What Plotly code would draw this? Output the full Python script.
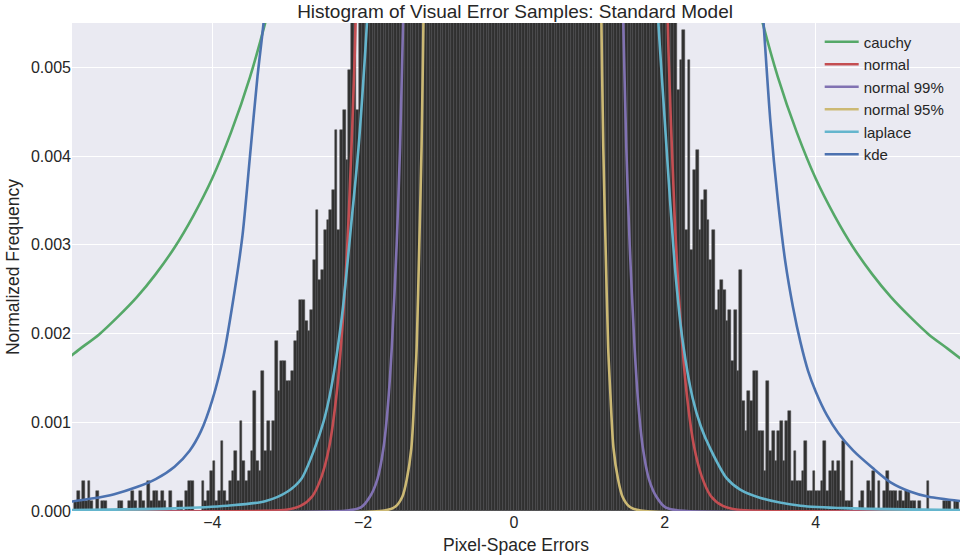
import plotly.graph_objects as go

# ---------------- data ----------------
BIN_START = -5.904
BIN_WIDTH = 0.036
COUNT_SCALE = 0.000113   # normalized frequency per sample count

left_tail_counts = [
    0, 0, 1, 2, 1, 3, 1, 3, 1, 0,
    2, 0, 1, 1, 0, 0, 0, 0, 1, 1,
    0, 0, 1, 2, 1, 0, 2, 1, 0, 3,
    1, 2, 2, 1, 2, 1, 0, 2, 0, 0,
    1, 1, 0, 2, 3, 3, 0, 0, 0, 3,
    1, 2, 4, 5, 1, 2, 7, 2, 1, 3,
    4, 6, 3, 9, 5, 3, 4, 6, 12, 5,
    4, 14, 6, 9, 6, 9, 17, 12, 15, 15,
    13, 13, 14, 17, 18, 21, 21, 19, 18, 20,
    25, 30, 23, 24, 28, 29, 30, 32, 38, 28,
    38, 40, 35, 44,
]
center_counts = [
    55, 57, 40, 60, 62, 66, 68, 73, 77, 82, 88, 94,
    100, 108, 115, 124, 133, 143, 154, 166, 178, 192, 206, 222,
    239, 257, 276, 297, 319, 343, 369, 396, 425, 456, 489, 524,
    561, 600, 641, 684, 729, 776, 825, 875, 926, 978, 1030, 1082,
    1133, 1183, 1231, 1277, 1320, 1360, 1396, 1428, 1455, 1477, 1493, 1503,
    1507, 1503, 1493, 1477, 1455, 1428, 1396, 1360, 1320, 1277, 1231, 1183,
    1133, 1082, 1030, 978, 926, 875, 825, 776, 729, 684, 641, 600,
    561, 524, 489, 456, 425, 396, 369, 343, 319, 297, 276, 257,
    239, 222, 206, 192, 178, 166, 154, 143, 133, 124, 115, 108,
    100, 94, 88, 82, 77, 73, 68, 66, 62, 60, 57, 55,
]
right_tail_counts = [
    42, 45, 48, 28, 45, 26, 34, 36, 28, 31,
    32, 29, 25, 28, 20, 22, 23, 22, 19, 20,
    15, 20, 14, 24, 11, 8, 12, 11, 14, 14,
    8, 8, 4, 13, 6, 8, 5, 8, 9, 5,
    9, 10, 3, 6, 3, 3, 4, 7, 2, 2,
    4, 2, 2, 3, 7, 2, 4, 5, 4, 5,
    2, 7, 1, 1, 5, 0, 0, 1, 2, 0,
    3, 2, 4, 0, 3, 0, 2, 4, 2, 2,
    2, 1, 2, 1, 2, 2, 1, 1, 0, 1,
    0, 0, 3, 0, 0, 0, 0, 0, 1, 1,
    1, 0, 1, 1,
]

# fitted curves (None splits the part above the view)
cauchy_x = [-5.9, -5.75, -5.5, -5.25, -5.0, -4.75, -4.5, -4.25, -4.0, -3.75, -3.5, -3.25, -3.1, None,
            3.1, 3.25, 3.5, 3.75, 4.0, 4.25, 4.5, 4.75, 5.0, 5.25, 5.5, 5.75, 5.92]
cauchy_y = [0.00173, 0.00183, 0.00199, 0.00219, 0.00241, 0.00267, 0.00297, 0.00333, 0.00375, 0.00427, 0.00489, 0.00566, 0.00621, None,
            0.00621, 0.00566, 0.00489, 0.00427, 0.00375, 0.00333, 0.00297, 0.00267, 0.00241, 0.00219, 0.00199, 0.00183, 0.00172]

normal_x = [-5.9, -3.3, -3.02, -2.83, -2.67, -2.55, -2.45, -2.35, -2.27, -2.19, -2.11, -2.03, None,
            1.97, 2.05, 2.13, 2.21, 2.29, 2.39, 2.49, 2.61, 2.77, 2.97, 3.27, 5.92]
normal_y = [0.0, 0.000001, 0.000013, 0.000057, 0.00017, 0.00039, 0.00072, 0.00133, 0.00213, 0.00334, 0.00517, 0.0079, None,
            0.0079, 0.00517, 0.00334, 0.00213, 0.00133, 0.00072, 0.00039, 0.00017, 0.000057, 0.000013, 0.000001, 0.0]

normal99_x = [-5.9, -2.21, -2.03, -1.91, -1.81, -1.73, -1.67, -1.62, -1.555, -1.51, -1.47, -1.41, None,
              1.39, 1.45, 1.49, 1.535, 1.60, 1.65, 1.71, 1.79, 1.89, 2.01, 2.19, 5.92]
normal99_y = [0.0, 0.000005, 0.00004, 0.00016, 0.00036, 0.00071, 0.0012, 0.00184, 0.0030, 0.0041, 0.0055, 0.0075, None,
              0.0075, 0.0055, 0.0041, 0.0030, 0.00184, 0.0012, 0.00071, 0.00036, 0.00016, 0.00004, 0.000005, 0.0]

normal95_x = [-5.9, -1.72, -1.57, -1.48, -1.42, -1.36, -1.32, -1.29, -1.255, -1.225, -1.20, -1.16, None,
              1.12, 1.16, 1.185, 1.215, 1.25, 1.28, 1.32, 1.38, 1.44, 1.53, 1.68, 5.92]
normal95_y = [0.0, 0.000005, 0.00005, 0.00016, 0.00036, 0.00071, 0.0013, 0.00184, 0.0030, 0.0041, 0.0055, 0.0080, None,
              0.0080, 0.0055, 0.0041, 0.0030, 0.00184, 0.0013, 0.00071, 0.00036, 0.00016, 0.00005, 0.000005, 0.0]

laplace_x = [-5.9, -4.5, -3.8, -3.3, -3.0, -2.82, -2.64, -2.52, -2.42, -2.28, -2.15, -2.06, -1.97, -1.9, None,
             1.88, 1.93, 2.0, 2.07, 2.15, 2.24, 2.37, 2.48, 2.6, 2.82, 3.0, 3.26, 3.8, 4.5, 5.92]
laplace_y = [0.00001, 0.00003, 0.00006, 0.00011, 0.00022, 0.00036, 0.00071, 0.00102, 0.0014, 0.0022, 0.0033, 0.0041, 0.0052, 0.0062, None,
             0.0060, 0.0053, 0.0044, 0.0035, 0.0026, 0.0019, 0.00127, 0.00095, 0.00071, 0.00037, 0.00024, 0.00015, 0.00006, 0.00003, 0.00001]

kde_x = [-5.88, -5.6, -5.3, -5.0, -4.75, -4.5, -4.3, -4.15, -4.0, -3.85, -3.7, -3.6, -3.5, -3.4, -3.32, -3.26, None,
         3.26, 3.31, 3.4, 3.5, 3.6, 3.7, 3.8, 3.9, 4.0, 4.15, 4.3, 4.5, 4.75, 5.0, 5.25, 5.5, 5.92]
kde_y = [0.000105, 0.00014, 0.00019, 0.00027, 0.00036, 0.00050, 0.00068, 0.00090, 0.00125, 0.00175, 0.0025, 0.0031, 0.0040, 0.0049, 0.0055, 0.0061, None,
         0.0061, 0.0055, 0.0044, 0.0035, 0.0028, 0.0023, 0.0019, 0.00158, 0.00135, 0.00108, 0.00088, 0.00068, 0.00049, 0.00032, 0.00022, 0.00016, 0.000112]

x_ticks = [-4, -2, 0, 2, 4]
y_ticks = [0.0, 0.001, 0.002, 0.003, 0.004, 0.005]

# ---------------- figure ----------------
counts = left_tail_counts + center_counts + right_tail_counts
bin_centers = [BIN_START + BIN_WIDTH * (i + 0.5) for i in range(len(counts))]
freqs = [c * COUNT_SCALE for c in counts]

fig = go.Figure()
fig.add_trace(go.Bar(
    x=bin_centers, y=freqs, width=BIN_WIDTH,
    marker=dict(color="#303030", line=dict(color="#4a4a4a", width=0.5)),
    showlegend=False, hoverinfo="skip",
))

curves = [
    ("cauchy", cauchy_x, cauchy_y, "#55A868"),
    ("normal", normal_x, normal_y, "#C44E52"),
    ("normal 99%", normal99_x, normal99_y, "#8172B2"),
    ("normal 95%", normal95_x, normal95_y, "#CCB974"),
    ("laplace", laplace_x, laplace_y, "#64B5CD"),
    ("kde", kde_x, kde_y, "#4C72B0"),
]
for name, xs, ys, col in curves:
    fig.add_trace(go.Scatter(
        x=xs, y=ys, name=name, mode="lines",
        line=dict(color=col, width=2.6, shape="spline", smoothing=0.8),
        connectgaps=False,
    ))

font_family = "Liberation Sans, Arial, sans-serif"
fig.update_layout(
    width=960, height=555,
    margin=dict(l=72, r=0, t=23, b=44),
    paper_bgcolor="white",
    plot_bgcolor="#EAEAF2",
    bargap=0,
    font=dict(family=font_family, color="#262626", size=16),
    title=dict(text="Histogram of Visual Error Samples: Standard Model",
               x=0.5365, xanchor="center", y=0.979, yanchor="middle",
               yref="container", font=dict(size=19, color="#262626")),
    legend=dict(x=0.842, y=0.995, xanchor="left", yanchor="top",
                bgcolor="rgba(0,0,0,0)", font=dict(size=15, color="#262626"),
                itemwidth=34, tracegroupgap=0),
    xaxis=dict(range=[-5.86, 5.915], tickvals=x_ticks, showgrid=True,
               gridcolor="white", gridwidth=1, zeroline=False,
               ticks="", tickfont=dict(size=16),
               title=dict(text="Pixel-Space Errors", font=dict(size=17.5), standoff=8)),
    yaxis=dict(range=[0, 0.0055], tickvals=y_ticks, tickformat=".3f",
               showgrid=True, gridcolor="white", gridwidth=1, zeroline=False,
               ticks="", tickfont=dict(size=16),
               title=dict(text="Normalized Frequency", font=dict(size=17.5), standoff=6)),
)

fig.write_html(
    "out.html",
    config={"displayModeBar": False},
    post_script="document.body.style.margin='0px';document.body.style.overflow='hidden';",
)
